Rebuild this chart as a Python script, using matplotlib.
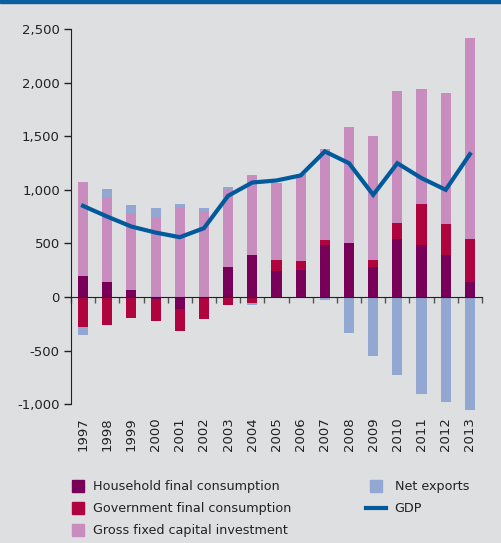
import numpy as np
import matplotlib.pyplot as plt
from matplotlib.lines import Line2D
from matplotlib.patches import Rectangle
import matplotlib.transforms as mtransforms

years = [str(y) for y in range(1997, 2014)]
household = [196, 140, 65, -15, -109, -10, 280, 392, 243, 254, 486, 505, 280, 542, 486, 392, 140]
government = [-277, -259, -193, -206, -206, -193, -72, -53, 103, 82, 47, -5, 66, 150, 383, 290, 402]
investment = [879, 792, 720, 748, 838, 804, 729, 748, 716, 814, 850, 1084, 1159, 1233, 1075, 1225, 1874]
net_exports = [-75, 77, 75, 84, 31, 28, 19, -19, -5, -5, -28, -331, -551, -729, -907, -981, -1056]
gdp = [850, 750, 657, 601, 558, 642, 944, 1068, 1087, 1134, 1358, 1248, 953, 1248, 1109, 1000, 1332]

bg = '#dddfe1'
c_house = '#780058'
c_gov = '#b0043f'
c_inv = '#c98cbf'
c_net = '#92a7d1'
c_gdp = '#005a9c'

fig = plt.figure(figsize=(5.02, 5.43), dpi=100, facecolor=bg)
ax = fig.add_axes([0.1414, 0.2398, 0.8187, 0.7068])
ax.set_facecolor(bg)

x = np.arange(len(years))
w = 0.42
pos_base = np.zeros(len(years))
neg_base = np.zeros(len(years))
for vals, col in [(household, c_house), (government, c_gov), (investment, c_inv), (net_exports, c_net)]:
    v = np.array(vals, dtype=float)
    base = np.where(v >= 0, pos_base, neg_base)
    ax.bar(x, v, w, bottom=base, color=col, linewidth=0, zorder=2)
    pos_base = pos_base + np.where(v >= 0, v, 0)
    neg_base = neg_base + np.where(v < 0, v, 0)

ax.plot(x, gdp, color=c_gdp, linewidth=3, zorder=4, solid_joinstyle='miter')

ax.set_xlim(-0.5, 16.5)
ax.set_ylim(-1080, 2500)
ax.spines['top'].set_visible(False)
ax.spines['right'].set_visible(False)
ax.spines['left'].set_bounds(-1000, 2500)
ax.spines['left'].set_color('#222222')
ax.spines['bottom'].set_position(('data', 0))
ax.spines['bottom'].set_color('#222222')
ax.spines['bottom'].set_zorder(3)

ax.set_yticks(range(-1000, 2501, 500))
ax.set_yticklabels([f'{v:,}' for v in range(-1000, 2501, 500)])
ax.tick_params(axis='y', length=5, width=1, color='#222222', labelsize=9.5, labelcolor='#222222', pad=3)

ax.set_xticks(np.arange(-0.5, 17, 1))
ax.set_xticklabels([])
ax.tick_params(axis='x', length=4, width=1, color='#555555')

trans = mtransforms.blended_transform_factory(ax.transData, ax.transAxes)
for i, y in enumerate(years):
    ax.text(i, -0.012, y, rotation=90, ha='center', va='top', fontsize=9.5,
            color='#222222', transform=trans)

# top border
fig.add_artist(Rectangle((0, 1 - 3 / 543), 1, 3 / 543, transform=fig.transFigure,
                         color='#0a5fa0', zorder=10))

def sq(col):
    return Line2D([], [], marker='s', linestyle='none', markersize=8, color=col)

h1 = [sq(c_house), sq(c_gov), sq(c_inv)]
l1 = ['Household final consumption', 'Government final consumption', 'Gross fixed capital investment']
h2 = [sq(c_net), Line2D([], [], color=c_gdp, linewidth=3)]
l2 = ['Net exports', 'GDP']

fs = 9.2
leg1 = fig.legend(h1, l1, loc='upper left', bbox_to_anchor=(68 / 502, 1 - 480 / 543),
                  frameon=False, fontsize=fs, handlelength=1.6, handletextpad=0.34,
                  labelspacing=0.72, borderaxespad=0, borderpad=0, labelcolor='#222222')
leg2 = fig.legend(h2, l2, loc='upper left', bbox_to_anchor=(366 / 502, 1 - 480 / 543),
                  frameon=False, fontsize=fs, handlelength=1.6, handletextpad=0.65,
                  labelspacing=0.72, borderaxespad=0, borderpad=0, labelcolor='#222222')

fig.savefig('out.png', dpi=100, facecolor=bg)
